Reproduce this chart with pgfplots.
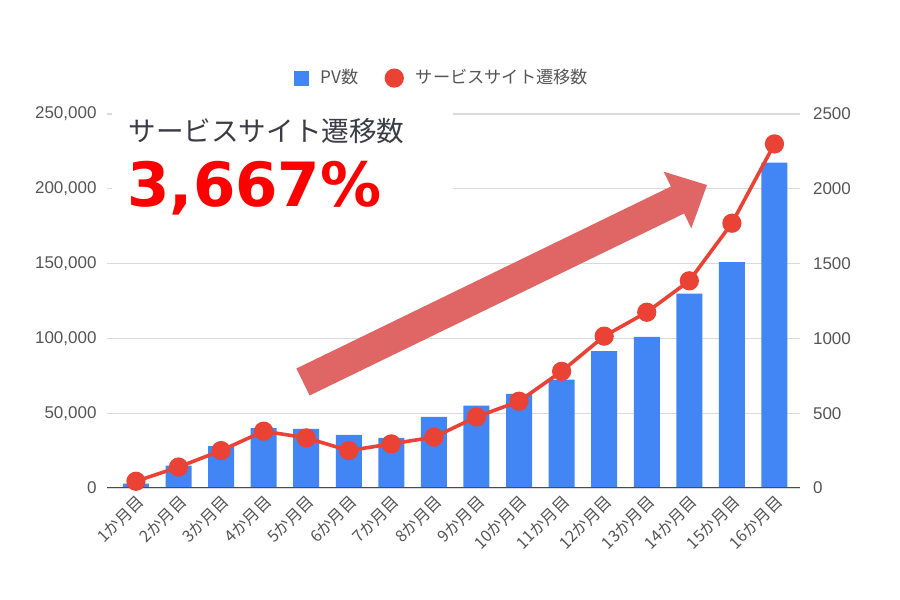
\documentclass[border=0pt]{standalone}
\usepackage{fontspec}
\setmainfont{Liberation Sans}
\newfontfamily\jp{Noto Sans CJK JP}
\newfontfamily\dv{DejaVu Sans}
\usepackage{pgfplots}
\usepackage{pgfplotstable}
\pgfplotsset{compat=1.18}
\definecolor{barblue}{HTML}{4285F4}
\definecolor{linered}{HTML}{EA4335}
\definecolor{arrowred}{HTML}{E06666}
\definecolor{ticktext}{HTML}{555555}
\definecolor{gridc}{HTML}{DADADA}
\definecolor{titlec}{HTML}{3C3C46}

\pgfplotstableread{
x pv
0 3000
1 15000
2 28000
3 40000
4 39500
5 35500
6 33500
7 47500
8 55000
9 63000
10 72500
11 91500
12 101000
13 130000
14 151000
15 217500
}\pvdata
\pgfplotstableread{
x tr
0 45
1 140
2 250
3 380
4 335
5 250
6 295
7 340
8 475
9 580
10 780
11 1015
12 1175
13 1385
14 1770
15 2300
}\trdata

\begin{document}
\begin{tikzpicture}[x=0.5pt,y=0.5pt]
\useasboundingbox (0,0) rectangle (900,600);
\pgfplotsset{common/.style={scale only axis, width=346.5pt, height=187pt,
  at={(53.5pt,56pt)}, anchor=south west, xmin=-0.68, xmax=15.6,
  axis line style={draw=none}, major tick length=0pt,
  tick label style={font=\fontsize{8.5}{10}\selectfont, text=ticktext},
  /pgf/number format/assume math mode=true}}
\begin{axis}[common, ymin=0, ymax=250000,
  ytick={0,50000,100000,150000,200000,250000}, scaled y ticks=false,
  /pgf/number format/1000 sep={,}, /pgf/number format/fixed,
  yticklabel style={xshift=-1.7pt},
  ymajorgrids, grid style={gridc, line width=0.6pt},
  xtick={0,...,15},
  xticklabels={1か月目,2か月目,3か月目,4か月目,5か月目,6か月目,7か月目,8か月目,9か月目,10か月目,11か月目,12か月目,13か月目,14か月目,15か月目,16か月目},
  xticklabel style={rotate=45, anchor=north east, font=\jp\fontsize{8.1}{10}\selectfont, inner sep=2pt}]
\addplot[ybar, bar width=13pt, fill=barblue, draw=none] table[x=x,y=pv]{\pvdata};
\draw[color=gray!60!black, line width=0.8pt] (rel axis cs:0,0) -- (rel axis cs:1,0);
\end{axis}
\fill[white] (112,375) rectangle (453,500);
\fill[arrowred] (296.4,231.5) -- (670.9,413.5) -- (663.7,428.3) -- (707,415) -- (691.3,371.7) -- (684.1,386.5) -- (309.6,204.5) -- cycle;
\node[anchor=west, inner sep=0, text=titlec, font=\jp\fontsize{13.8}{16}\selectfont] at (128,469) {サービスサイト遷移数};
\node[anchor=base west, inner sep=0, text=red, font=\dv\bfseries\fontsize{30.5}{36}\selectfont] at (127,393) {3,667\%};
\begin{axis}[common, ymin=0, ymax=2500,
  ytick={0,500,1000,1500,2000,2500}, yticklabel pos=right,
  /pgf/number format/1000 sep={},
  yticklabel style={xshift=3pt},
  xtick=\empty,
  legend style={at={(0.485,1.096)}, anchor=center, draw=none, fill=none,
    legend columns=2, font=\jp\fontsize{8.6}{10}\selectfont, text=ticktext,
    /tikz/every odd column/.append style={column sep=4pt},
    /tikz/every even column/.append style={column sep=11pt}},
  legend cell align=left]
\addlegendimage{legend image code/.code={\fill[barblue] (0pt,-3.4pt) rectangle (6.8pt,3.4pt);}}
\addlegendentry{PV数}
\addplot[linered, line width=1.8pt, mark=*, mark size=3.9pt,
  mark options={fill=linered, draw=linered},
  legend image code/.code={\fill[linered] (3.9pt,0) circle (3.9pt);}]
  table[x=x,y=tr]{\trdata};
\addlegendentry{サービスサイト遷移数}
\end{axis}
\end{tikzpicture}
\end{document}
